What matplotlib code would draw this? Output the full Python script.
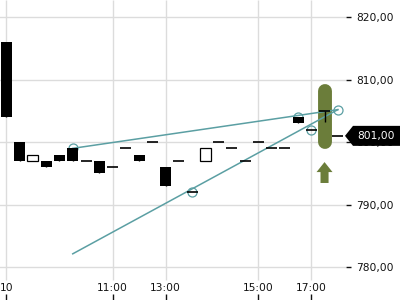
import numpy as np
import matplotlib.pyplot as plt
import matplotlib.transforms as mtransforms
from matplotlib.patches import Polygon

# candle data (one bar per slot, x axis is bar index)
idx = np.arange(26)
opens = [816, 800, 797, 797, 798, 799, 797, 797, 796, 799, 798, 800, 796,
         797, 792, 797, 800, 799, 797, 800, 799, 799, 804, 802, 805, 801]
closes = [804, 797, 798, 796, 797, 797, 797, 795, 796, 799, 797, 800, 793,
          797, 792, 799, 800, 799, 797, 800, 799, 799, 803, 802, 805, 801]
highs = [816, 800, 798, 797, 798, 799, 797, 797, 796, 799, 798, 800, 796,
         797, 792, 799, 800, 799, 797, 800, 799, 799, 804, 802, 805, 801]
lows = [804, 797, 797, 796, 797, 797, 797, 795, 796, 799, 797, 800, 793,
        797, 792, 797, 800, 799, 797, 800, 799, 799, 803, 802, 803.2, 801]

# pivot circles and trend lines
pivot_x = [5, 14, 22, 23, 25]
pivot_y = [799, 792, 804, 802, 805.2]
trend_x = [5, 25]
trend1_y = [799, 805.2]
trend2_y = [782.1, 805.2]

# signal marker
signal_x = 24
signal_bar = [800.0, 808.2]
signal_arrow = [793.45, 796.8]

xtick_pos = [0, 8, 12, 19, 23]
xtick_labels = ['10', '11:00', '13:00', '15:00', '17:00']
ytick_vals = [780, 790, 800, 810, 820]
last_price = 801.0

teal = '#5b9fa3'
green = '#6b7d3a'
grid_c = '#dcdcdc'
fs = 7.7

fig = plt.figure(figsize=(4, 3), dpi=100)
ax = fig.add_axes([0, 0, 346 / 400, 1])
ax.set_xlim(-0.49, 25.62)
ax.set_ylim(774.70, 822.77)
for s in ax.spines.values():
    s.set_visible(False)

# grid
ax.set_axisbelow(True)
ax.set_yticks(ytick_vals)
ax.yaxis.grid(True, color=grid_c, lw=1)
ax.vlines(xtick_pos, 777.9, 822.77, color=grid_c, lw=1, zorder=0)

# signal pill + arrow
ax.plot([signal_x, signal_x], signal_bar, lw=10, color=green,
        solid_capstyle='round', zorder=1)
ax.annotate('', xy=(signal_x, signal_arrow[1]), xytext=(signal_x, signal_arrow[0]),
            arrowprops=dict(arrowstyle='simple,head_length=0.72,head_width=1.15,tail_width=0.58',
                            fc=green, ec='none', shrinkA=0, shrinkB=0, mutation_scale=10))

# trend lines
ax.plot(trend_x, trend1_y, color=teal, lw=1.1, zorder=2)
ax.plot(trend_x, trend2_y, color=teal, lw=1.1, zorder=2)
ax.plot(pivot_x, pivot_y, 'o', ms=6.5, mfc='none', mec=teal, mew=0.9, zorder=2)

# candles
o = np.array(opens, dtype=float)
c = np.array(closes, dtype=float)
h = np.array(highs, dtype=float)
l = np.array(lows, dtype=float)
w = 0.83
ax.vlines(idx, l, h, color='black', lw=1, zorder=3)
body = np.abs(c - o) > 0
down = body & (c < o)
up = body & (c > o)
ax.bar(idx[down], (o - c)[down], bottom=c[down], width=w, color='black', zorder=4)
ax.bar(idx[up], (c - o)[up], bottom=o[up], width=w, color='white',
       edgecolor='black', linewidth=0.9, zorder=4)
flat = ~body
ax.hlines(o[flat], idx[flat] - w / 2, idx[flat] + w / 2, color='black', lw=1.2, zorder=4)

# ticks
ax.set_xticks(xtick_pos)
ax.set_xticklabels(xtick_labels)
ax.tick_params(axis='x', direction='in', length=4.3, width=1, pad=-12.2,
               labelsize=fs, colors='#111111')
ax.yaxis.tick_right()
ax.set_yticklabels([f'{v:.2f}'.replace('.', ',') for v in ytick_vals])
ax.tick_params(axis='y', direction='out', length=3.6, width=1, pad=3.6,
               labelsize=fs, colors='#111111')

# last price badge
fig.canvas.draw()
px, py = ax.transData.transform((ax.get_xlim()[1], last_price))
badge = Polygon([(px - 1, py), (px + 7, py + 10), (px + 60, py + 10),
                 (px + 60, py - 10), (px + 7, py - 10)],
                closed=True, fc='black', ec='none',
                transform=mtransforms.IdentityTransform())
fig.add_artist(badge)
trans = mtransforms.offset_copy(
    mtransforms.blended_transform_factory(ax.transAxes, ax.transData),
    fig=fig, x=11, y=0, units='dots')
fig.text(1.0, last_price, f'{last_price:.2f}'.replace('.', ','), transform=trans,
         color='white', fontsize=fs, ha='left', va='center')

fig.savefig('out.png', dpi=100)
